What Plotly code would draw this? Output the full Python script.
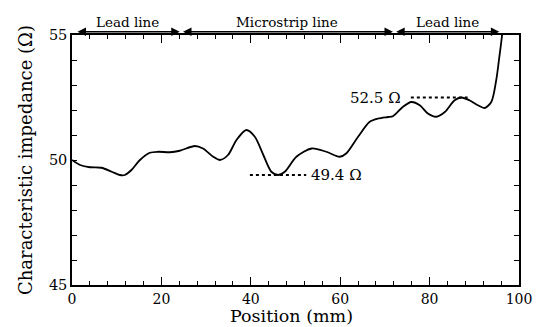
import plotly.graph_objects as go

# Impedance profile along the line (position in mm, impedance in ohm)
position_mm = [0.0, 1.8, 4.0, 6.6, 8.9, 10.7, 11.8, 13.3, 15.2, 17.4, 19.3, 21.9, 24.1,
               27.5, 29.3, 31.6, 33.1, 34.9, 36.8, 39.0, 40.9, 42.8, 44.6, 46.1, 47.6,
               50.2, 53.6, 56.9, 59.9, 61.4, 64.0, 66.6, 68.5, 70.7, 71.8, 74.0, 75.9,
               77.8, 79.6, 81.5, 83.4, 85.6, 87.1, 88.9, 90.8, 92.3, 93.8, 94.9, 95.6,
               96.2, 96.6]
impedance_ohm = [50.0, 49.8, 49.71, 49.69, 49.53, 49.4, 49.4, 49.6, 50.0, 50.29, 50.33,
                 50.31, 50.37, 50.56, 50.46, 50.13, 50.0, 50.2, 50.8, 51.2, 50.93, 50.2,
                 49.53, 49.4, 49.53, 50.13, 50.46, 50.33, 50.13, 50.27, 50.93, 51.53,
                 51.66, 51.72, 51.75, 52.12, 52.32, 52.19, 51.86, 51.73, 51.92, 52.39,
                 52.5, 52.39, 52.19, 52.08, 52.32, 53.19, 54.12, 54.98, 56.0]

# Marked extreme values
min_value = 49.4
max_value = 52.5
min_span = [39.8, 52.4]
max_span = [75.8, 88.5]

# Line sections along the top
section_names = ["Lead line", "Microstrip line", "Lead line"]
section_edges = [(0.9, 24.1), (24.5, 71.8), (72.2, 95.6)]

x_ticks = [0, 20, 40, 60, 80, 100]
y_ticks = [45, 50, 55]

FONT = "DejaVu Serif"

fig = go.Figure()
fig.add_trace(go.Scatter(x=position_mm, y=impedance_ohm, mode="lines",
                         line=dict(color="black", width=1.8, shape="spline", smoothing=0.8),
                         showlegend=False))

# Dotted reference lines at the extremes
for val, span in ((min_value, min_span), (max_value, max_span)):
    fig.add_shape(type="line", x0=span[0], x1=span[1], y0=val, y1=val,
                  xref="x", yref="y", line=dict(color="black", width=2, dash="dot"))

fig.add_annotation(x=min_span[1], y=min_value, text=f"{min_value} Ω", showarrow=False,
                   xanchor="left", yanchor="middle", xshift=3,
                   font=dict(family=FONT, size=15, color="black"))
fig.add_annotation(x=max_span[0], y=max_value, text=f"{max_value} Ω", showarrow=False,
                   xanchor="right", yanchor="middle", xshift=-8,
                   font=dict(family=FONT, size=15, color="black"))

# Section arrows and labels
for name, (a, b) in zip(section_names, section_edges):
    fig.add_annotation(x=b, y=1.013, xref="x", yref="paper", ax=a, ay=0,
                       axref="x", ayref="pixel", text="", showarrow=True,
                       arrowhead=2, startarrowhead=2, arrowside="end+start",
                       arrowsize=1.3, startarrowsize=1.3, arrowwidth=1.3, arrowcolor="black")
    fig.add_annotation(x=(a + b) / 2, y=1.013, xref="x", yref="paper", text=name,
                       showarrow=False, yanchor="bottom", yshift=0,
                       font=dict(family=FONT, size=13.5, color="black"))

# Axis titles
fig.add_annotation(x=0.49, y=-0.172, xref="paper", yref="paper", text="Position (mm)",
                   showarrow=False, xanchor="center", yanchor="bottom",
                   font=dict(family=FONT, size=17.5, color="black"))
fig.add_annotation(x=-0.105, y=0.5, xref="paper", yref="paper",
                   text="Characteristic impedance (Ω)",
                   showarrow=False, xanchor="center", yanchor="middle", textangle=-90,
                   font=dict(family=FONT, size=18, color="black"))

fig.update_layout(
    width=537, height=327,
    margin=dict(l=72, r=18, t=35, b=42),
    paper_bgcolor="white", plot_bgcolor="white",
    font=dict(family=FONT, color="black"),
)
fig.update_xaxes(range=[0, 100], tickvals=x_ticks, ticks="inside", ticklen=8,
                 tickwidth=1.2, tickcolor="black", showline=True, linewidth=1.5,
                 linecolor="black", mirror="ticks", showgrid=False, zeroline=False,
                 automargin=False, tickfont=dict(family=FONT, size=14),
                 minor=dict(dtick=4, ticks="inside", ticklen=4, tickcolor="black", tickwidth=1.2))
fig.update_yaxes(range=[45, 55], tickvals=y_ticks, ticks="inside", ticklen=5,
                 tickwidth=1.2, tickcolor="black", showline=True, linewidth=1.5,
                 linecolor="black", mirror="ticks", showgrid=False, zeroline=False,
                 automargin=False, tickfont=dict(family=FONT, size=14.5),
                 minor=dict(dtick=1, ticks="inside", ticklen=5, tickcolor="black", tickwidth=1.2))

fig.write_html("out.html")
